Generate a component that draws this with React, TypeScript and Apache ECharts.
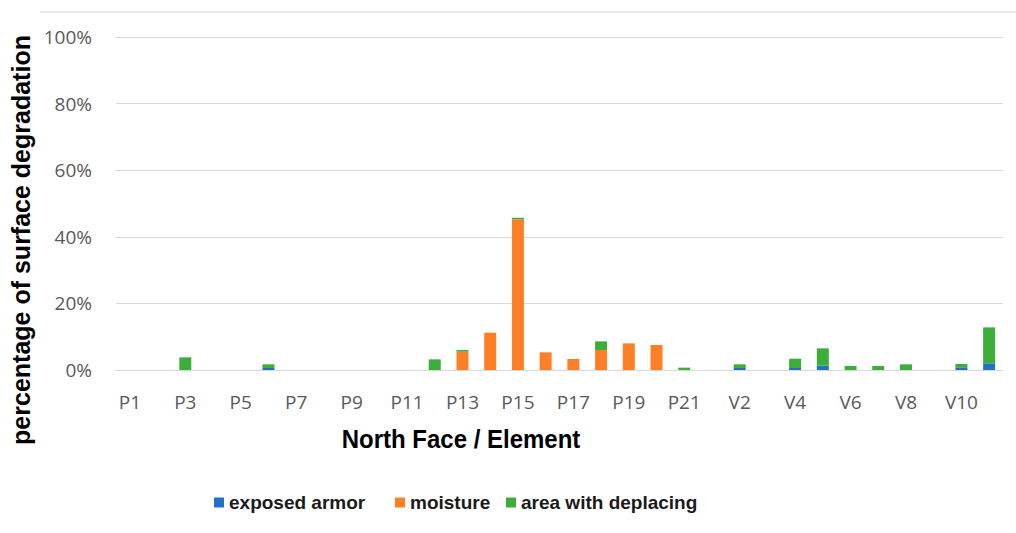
import React, { useEffect, useRef } from "react";
import * as echarts from "echarts";

const categories = [
  "P1", "P2", "P3", "P4", "P5", "P6", "P7", "P8", "P9", "P10", "P11",
  "P12", "P13", "P14", "P15", "P16", "P17", "P18", "P19", "P20", "P21",
  "V1", "V2", "V3", "V4", "V5", "V6", "V7", "V8", "V9", "V10", "V11",
];

const exposedArmor = [
  0, 0, 0, 0, 0, 0.6, 0, 0, 0, 0, 0,
  0, 0, 0, 0, 0, 0, 0, 0, 0, 0,
  0, 0.6, 0, 0.6, 1.3, 0, 0, 0, 0, 0.8, 2.0,
];

const moisture = [
  0, 0, 0, 0, 0, 0, 0, 0, 0, 0, 0,
  0, 5.5, 11.2, 45.3, 5.3, 3.3, 6.0, 8.0, 7.5, 0,
  0, 0, 0, 0, 0, 0, 0, 0, 0, 0, 0,
];

const deplacing = [
  0, 0, 3.8, 0, 0, 1.1, 0, 0, 0, 0, 0,
  3.2, 0.5, 0, 0.4, 0, 0, 2.6, 0, 0, 0.7,
  0, 1.1, 0, 2.8, 5.2, 1.2, 1.2, 1.7, 0, 1.0, 10.8,
];

const seriesNames = ["exposed armor", "moisture", "area with deplacing"];
const seriesColors = ["#1F72C6", "#FF7F27", "#3DAE3A"];
const yTicks = { min: 0, max: 100, interval: 20 };

const boldFont = "'Liberation Sans', Arial, sans-serif";
const tickFont = "'Open Sans', sans-serif";

export default function App() {
  const ref = useRef<HTMLDivElement>(null);

  useEffect(() => {
    if (!ref.current) return;
    const chart = echarts.init(ref.current, undefined, { renderer: "svg" });
    const values = [exposedArmor, moisture, deplacing];
    const legendLefts = [209, 390, 501];

    chart.setOption({
      animation: false,
      backgroundColor: "#ffffff",
      grid: { left: 116, right: 13, top: 37, bottom: 163, containLabel: false },
      legend: seriesNames.map((name, i) => ({
        data: [name],
        left: legendLefts[i],
        top: 488,
        itemWidth: 10,
        itemHeight: 10,
        icon: "rect",
        textStyle: {
          fontFamily: boldFont,
          fontWeight: "bold",
          fontSize: 19,
          color: "#1a1a1a",
        },
      })),
      xAxis: {
        type: "category",
        data: categories,
        axisLine: { lineStyle: { color: "#D9D9D9", width: 1 } },
        axisTick: { show: false },
        axisLabel: {
          interval: 1,
          margin: 22,
          fontFamily: tickFont,
          fontSize: 19,
          color: "#595959",
        },
      },
      yAxis: {
        type: "value",
        min: yTicks.min,
        max: yTicks.max,
        interval: yTicks.interval,
        axisLine: { show: false },
        axisTick: { show: false },
        splitLine: { lineStyle: { color: "#D9D9D9", width: 1 } },
        axisLabel: {
          formatter: "{value}%",
          margin: 24,
          fontFamily: tickFont,
          fontSize: 19,
          color: "#595959",
        },
      },
      series: seriesNames.map((name, i) => ({
        name,
        type: "bar",
        stack: "total",
        barWidth: 12,
        itemStyle: { color: seriesColors[i] },
        data: values[i],
      })),
      graphic: [
        {
          type: "line",
          shape: { x1: 40, y1: 12, x2: 1016, y2: 12 },
          style: { stroke: "#D9D9D9", lineWidth: 1 },
        },
        {
          type: "text",
          x: 21,
          y: 240,
          rotation: Math.PI / 2,
          style: {
            text: "percentage of surface degradation",
            font: `bold 25px ${boldFont}`,
            fill: "#000000",
            align: "center",
            verticalAlign: "middle",
          },
        },
        {
          type: "text",
          x: 461,
          y: 439,
          scaleY: 1.1,
          style: {
            text: "North Face / Element",
            font: `bold 24px ${boldFont}`,
            fill: "#000000",
            align: "center",
            verticalAlign: "middle",
          },
        },
      ],
    });

    return () => chart.dispose();
  }, []);

  return (
    <div
      ref={ref}
      style={{ position: "fixed", left: 0, top: 0, width: 1016, height: 533 }}
    />
  );
}
